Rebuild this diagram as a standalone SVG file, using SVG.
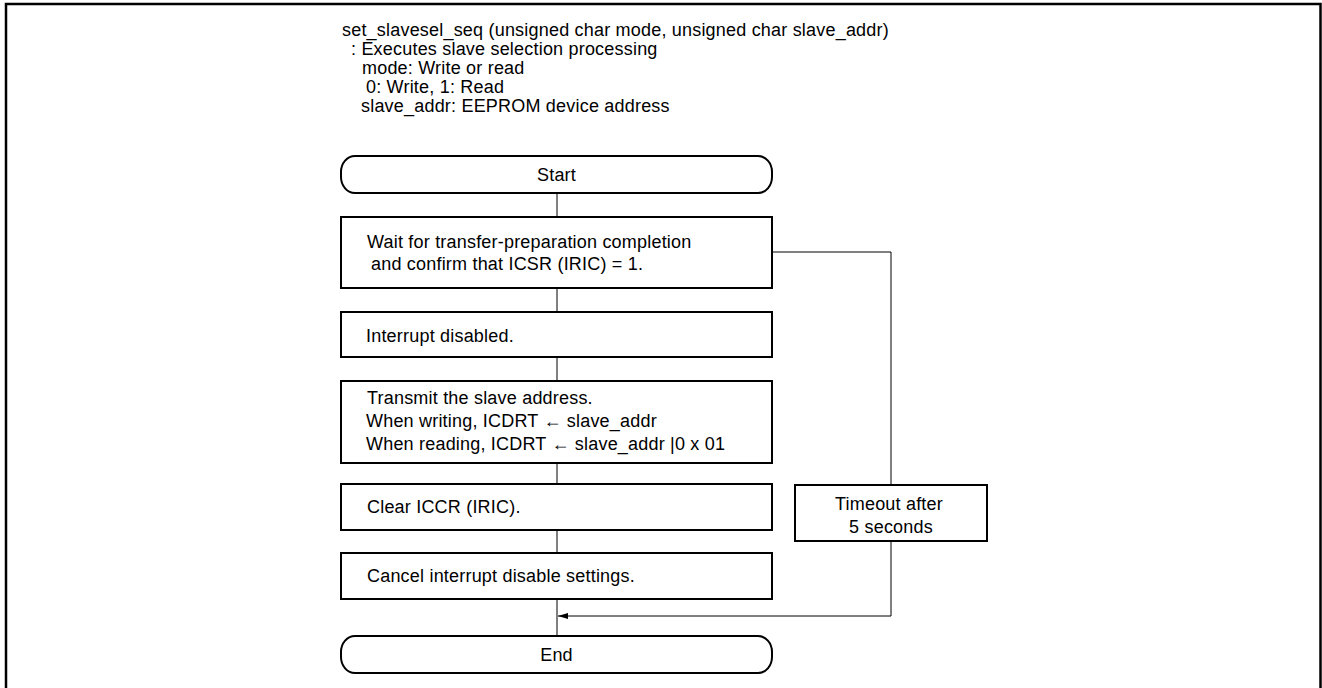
<svg xmlns="http://www.w3.org/2000/svg" width="1322" height="688" viewBox="0 0 1322 688">
<defs>
<style>
text{font-family:"Liberation Sans",Arial,sans-serif;font-size:18px;letter-spacing:0.2px;fill:#000}
.box{fill:#fff;stroke:#000;stroke-width:2}
.c{fill:none;stroke:#000;stroke-width:1}
.m{text-anchor:middle}
</style>
<marker id="ah" viewBox="0 0 10 6" refX="10" refY="3" markerWidth="10" markerHeight="6" markerUnits="userSpaceOnUse" orient="auto">
<path d="M0,0 L10,3 L0,6 Z" fill="#000"/>
</marker>
</defs>
<rect width="1322" height="688" fill="#fff"/>
<path d="M6,700 V4 H1320.5 V700" fill="none" stroke="#000" stroke-width="2.5"/>
<g id="title">
<text x="342" y="36">set_slavesel_seq (unsigned char mode, unsigned char slave_addr)</text>
<text x="351" y="55">: Executes slave selection processing</text>
<text x="362" y="74">mode: Write or read</text>
<text x="366" y="93">0: Write, 1: Read</text>
<text x="361" y="112">slave_addr: EEPROM device address</text>
</g>
<g id="connectors">
<path class="c" d="M557,193 V217"/>
<path class="c" d="M557,288 V312"/>
<path class="c" d="M557,357 V381"/>
<path class="c" d="M557,463 V484"/>
<path class="c" d="M557,530 V553"/>
<path class="c" d="M557,599 V636"/>
<path class="c" d="M772,252 H891 V485"/>
<path class="c" d="M891,541 V616 H558" marker-end="url(#ah)"/>
</g>
<g id="start">
<rect class="box" x="341" y="156" width="431" height="37" rx="14" ry="16"/>
<text class="m" x="556.5" y="181">Start</text>
</g>
<g id="wait">
<rect class="box" x="341" y="217" width="431" height="71"/>
<text x="367" y="248">Wait for transfer-preparation completion</text>
<text x="371" y="270">and confirm that ICSR (IRIC) = 1.</text>
</g>
<g id="intdis">
<rect class="box" x="341" y="312" width="431" height="45"/>
<text x="366" y="342">Interrupt disabled.</text>
</g>
<g id="transmit">
<rect class="box" x="341" y="381" width="431" height="82"/>
<text x="367" y="404">Transmit the slave address.</text>
<text x="366" y="427">When writing, ICDRT ← slave_addr</text>
<text x="366" y="450">When reading, ICDRT ← slave_addr |0 x 01</text>
</g>
<g id="clear">
<rect class="box" x="341" y="484" width="431" height="46"/>
<text x="367" y="513">Clear ICCR (IRIC).</text>
</g>
<g id="cancel">
<rect class="box" x="341" y="553" width="431" height="46"/>
<text x="367" y="582">Cancel interrupt disable settings.</text>
</g>
<g id="timeout">
<rect class="box" x="795" y="485" width="192" height="56"/>
<text class="m" x="889" y="510">Timeout after</text>
<text class="m" x="891" y="533">5 seconds</text>
</g>
<g id="end">
<rect class="box" x="341" y="636" width="431" height="37" rx="14" ry="16"/>
<text class="m" x="556.5" y="661">End</text>
</g>
</svg>
